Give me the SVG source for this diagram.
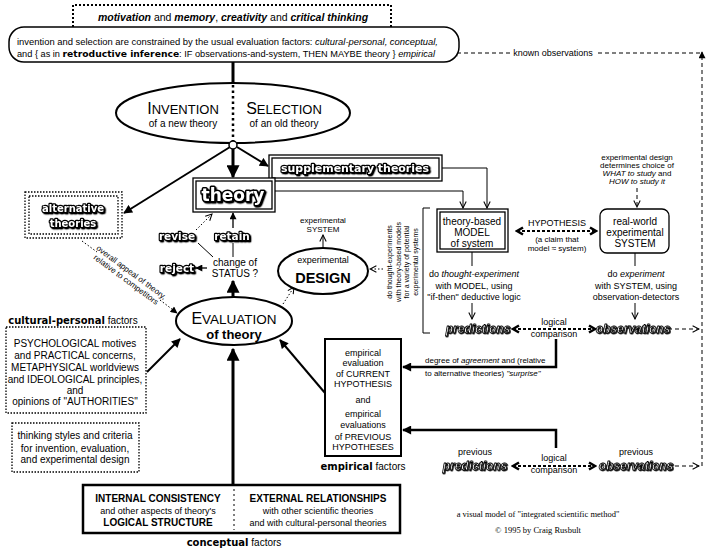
<svg xmlns="http://www.w3.org/2000/svg" width="710" height="550" viewBox="0 0 710 550">
<style>
.t{font-family:"Liberation Sans",Arial,sans-serif;font-size:9px;fill:#000}
.c{text-anchor:middle}
.b{font-weight:bold}
.i{font-style:italic}
.s8{font-size:8px}
.s10{font-size:10px}
.hv{font-family:"DejaVu Sans",sans-serif;font-weight:bold}
.ol{font-family:"DejaVu Sans",sans-serif;font-weight:bold;fill:#fff;stroke:#000;stroke-width:2.4px;paint-order:stroke;stroke-linejoin:round;filter:url(#sh);text-anchor:middle}
.oli{font-family:"Liberation Sans",Arial,sans-serif;font-weight:bold;font-style:italic;font-size:12px;fill:#fff;stroke:#000;stroke-width:0.8px;stroke-linejoin:round;filter:url(#sh2);text-anchor:middle}
.box{fill:#fff;stroke:#000}
.dot{fill:none;stroke:#000;stroke-width:1.3;stroke-dasharray:1.5 1.5}
.ln{fill:none;stroke:#000;stroke-width:1}
.dash{fill:none;stroke:#000;stroke-width:1;stroke-dasharray:4 3}
.dash2{fill:none;stroke:#000;stroke-width:2;stroke-dasharray:3 2}
.dotl{fill:none;stroke:#000;stroke-width:1;stroke-dasharray:1.5 2}
</style>
<defs>
<filter id="sh" x="-10%" y="-20%" width="130%" height="150%"><feDropShadow dx="1.3" dy="1.3" stdDeviation="0" flood-color="#000"/></filter>
<filter id="sh2" x="-10%" y="-20%" width="130%" height="150%"><feDropShadow dx="0.8" dy="0.8" stdDeviation="0" flood-color="#000"/></filter>
<marker id="big" viewBox="0 0 10 10" refX="9" refY="5" markerWidth="13" markerHeight="13" orient="auto" markerUnits="userSpaceOnUse"><path d="M0,0 L10,5 L0,10 z"/></marker>
<marker id="med" viewBox="0 0 10 10" refX="9" refY="5" markerWidth="10" markerHeight="9" orient="auto" markerUnits="userSpaceOnUse"><path d="M0,0 L10,5 L0,10 z"/></marker>
<marker id="sm" viewBox="0 0 10 10" refX="9" refY="5" markerWidth="8" markerHeight="7" orient="auto" markerUnits="userSpaceOnUse"><path d="M0,0 L10,5 L0,10 z"/></marker>
<marker id="open" viewBox="0 0 10 10" refX="9" refY="5" markerWidth="8" markerHeight="8" orient="auto" markerUnits="userSpaceOnUse"><path d="M1,1 L9,5 L1,9" fill="none" stroke="#000" stroke-width="1.3"/></marker>
<marker id="chev" viewBox="0 0 10 10" refX="8" refY="5" markerWidth="10" markerHeight="10" orient="auto-start-reverse" markerUnits="userSpaceOnUse"><path d="M2,1.5 L8,5 L2,8.5" fill="none" stroke="#000" stroke-width="2.6"/></marker>
</defs>
<rect width="710" height="550" fill="#fff"/>

<g id="connectors">
<line x1="233" y1="62" x2="233" y2="83" stroke="#000" stroke-width="3"/>
<line x1="233" y1="149" x2="233" y2="177" stroke="#000" stroke-width="3" marker-end="url(#big)"/>
<line x1="230" y1="147" x2="124" y2="213" stroke="#000" stroke-width="2" marker-end="url(#med)"/>
<line x1="237" y1="147" x2="268" y2="166" stroke="#000" stroke-width="2" marker-end="url(#med)"/>
<polyline points="275,191 463,191 463,208" class="ln" marker-end="url(#open)"/>
<polyline points="442,168 487,168 487,208" class="ln" marker-end="url(#open)"/>
<line x1="233" y1="228" x2="233" y2="213" stroke="#000" stroke-width="1.3" marker-end="url(#sm)"/>
<line x1="233" y1="243" x2="233" y2="257" class="ln"/>
<line x1="196" y1="230" x2="212" y2="214" class="dotl" marker-end="url(#open)"/>
<line x1="198" y1="243" x2="213" y2="257" class="ln"/>
<line x1="207" y1="268" x2="196" y2="268" stroke="#000" stroke-width="1.3" marker-end="url(#sm)"/>
<line x1="233" y1="297" x2="233" y2="281" stroke="#000" stroke-width="3" marker-end="url(#big)"/>
<line x1="283" y1="304" x2="294" y2="287" class="dotl" marker-end="url(#open)"/>
<line x1="323" y1="248" x2="323" y2="235" class="ln" marker-end="url(#open)"/>
<line x1="383" y1="269" x2="370" y2="269" class="dotl" marker-end="url(#open)"/>
<line x1="82" y1="241" x2="97" y2="252" class="dotl"/>
<line x1="160" y1="300" x2="177" y2="313" class="dotl" marker-end="url(#sm)"/>
<line x1="147" y1="372" x2="180" y2="339" stroke="#000" stroke-width="2" marker-end="url(#med)"/>
<line x1="325" y1="393" x2="280" y2="340" stroke="#000" stroke-width="2" marker-end="url(#med)"/>
<line x1="233" y1="485" x2="233" y2="349" stroke="#000" stroke-width="3" marker-end="url(#big)"/>
<path d="M430,208 H423 V333 H430" class="ln"/>
<line x1="472" y1="252" x2="472" y2="266" class="ln"/>
<line x1="472" y1="303" x2="472" y2="319" class="ln" marker-end="url(#open)"/>
<line x1="635" y1="253" x2="635" y2="266" class="ln"/>
<line x1="635" y1="303" x2="635" y2="319" class="ln" marker-end="url(#open)"/>
<line x1="637" y1="188" x2="637" y2="207" class="dash" marker-end="url(#open)"/>
<line x1="517" y1="231" x2="596" y2="231" class="dash2" marker-start="url(#chev)" marker-end="url(#chev)"/>
<line x1="513" y1="329" x2="595" y2="329" class="dash2" marker-start="url(#chev)" marker-end="url(#chev)"/>
<line x1="668" y1="329" x2="699" y2="329" class="dash" marker-end="url(#open)"/>
<polyline points="556,339 556,367 403,367" fill="none" stroke="#000" stroke-width="2.5" marker-end="url(#med)"/>
<line x1="513" y1="466" x2="595" y2="466" class="dash2" marker-start="url(#chev)" marker-end="url(#chev)"/>
<line x1="668" y1="466" x2="699" y2="466" class="dash" marker-end="url(#open)"/>
<polyline points="556,448 556,430 403,430" fill="none" stroke="#000" stroke-width="2.5" marker-end="url(#med)"/>
<line x1="702" y1="466" x2="702" y2="52" class="dash" marker-end="url(#sm)"/>
<line x1="700" y1="53" x2="596" y2="53" class="dash"/>
<line x1="510" y1="53" x2="451" y2="53" class="dash" marker-end="url(#sm)"/>
</g>

<g id="motivation">
<path d="M73,27 V5 H391 V27" fill="none" stroke="#000" stroke-width="2" stroke-dasharray="2 2"/>
<text x="233" y="21" class="t c" style="font-size:10.5px"><tspan class="b i">motivation</tspan> and <tspan class="b i">memory</tspan>, <tspan class="b i">creativity</tspan> and <tspan class="b i">critical thinking</tspan></text>
</g>

<g id="constraints">
<rect x="9" y="27" width="450" height="35" rx="15" class="box" stroke-width="1.5"/>
<text x="17" y="45" class="t" textLength="421" lengthAdjust="spacingAndGlyphs">invention and selection are constrained by the usual evaluation factors:  <tspan class="i">cultural-personal, conceptual,</tspan></text>
<text x="17" y="57" class="t" textLength="418" lengthAdjust="spacingAndGlyphs">and  { as in <tspan class="hv">retroductive inference</tspan>:  IF observations-and-system, THEN MAYBE theory }  <tspan class="i">empirical</tspan></text>
</g>

<g id="known-observations">
<text x="553" y="56" class="t c">known observations</text>
</g>

<g id="invention-selection">
<ellipse cx="233" cy="113" rx="117" ry="30" class="box" stroke-width="2"/>
<line x1="233" y1="85" x2="233" y2="141" stroke="#000" stroke-width="2.5" stroke-dasharray="2.5 3"/>
<text x="183" y="114" class="t c"><tspan font-size="16">I</tspan><tspan font-size="13">NVENTION</tspan></text>
<text x="183" y="127" class="t c s10">of a new theory</text>
<text x="284" y="114" class="t c"><tspan font-size="16">S</tspan><tspan font-size="13">ELECTION</tspan></text>
<text x="284" y="127" class="t c s10">of an old theory</text>
<circle cx="233" cy="145" r="4" fill="#fff" stroke="#000" stroke-width="1.5"/>
</g>

<g id="supplementary-theories">
<rect x="269" y="155" width="173" height="26" class="box" stroke-width="1.3"/>
<rect x="272" y="158" width="167" height="20" fill="none" stroke="#000" stroke-width="1.3"/>
<text x="355" y="172" class="ol" font-size="10.5" textLength="148" lengthAdjust="spacingAndGlyphs">supplementary theories</text>
</g>

<g id="theory">
<rect x="193" y="178" width="82" height="34" class="box" stroke-width="1.3"/>
<rect x="196" y="181" width="76" height="28" fill="none" stroke="#000" stroke-width="1.3"/>
<text x="233" y="201" class="ol" font-size="17" style="stroke-width:3px">theory</text>
</g>

<g id="alternative-theories">
<rect x="25" y="192" width="97" height="46" fill="#fff" class="dot"/>
<rect x="29" y="196" width="89" height="38" class="dot"/>
<text x="73" y="212" class="ol" font-size="10">alternative</text>
<text x="73" y="227" class="ol" font-size="10">theories</text>
</g>

<g id="status">
<text x="177" y="240" class="ol" font-size="10.5">revise</text>
<text x="232" y="240" class="ol" font-size="10.5">retain</text>
<text x="177" y="272" class="ol" font-size="10.5">reject</text>
<text x="235" y="266" class="t c s10">change of</text>
<text x="235" y="277" class="t c s10">STATUS ?</text>
</g>

<g id="appeal-label">
<text transform="translate(128,277) rotate(36.5)" class="t c s8"><tspan x="0" y="-3">overall appeal of theory,</tspan><tspan x="0" y="6">relative to competitors</tspan></text>
</g>

<g id="experimental-design">
<ellipse cx="323" cy="271" rx="45" ry="23" class="box" stroke-width="2"/>
<text x="323" y="263" class="t c">experimental</text>
<text x="323" y="283" class="t c b" style="font-size:14.5px">DESIGN</text>
<text x="323" y="223" class="t c s8">experimental</text>
<text x="323" y="232" class="t c s8">SYSTEM</text>
</g>

<g id="thought-experiments">
<text transform="translate(392,262) rotate(-90)" class="t c" style="font-size:7px"><tspan x="0" y="0">do thought-experiments</tspan><tspan x="0" y="8.5">with theory-based models</tspan><tspan x="0" y="17">for a variety of potential</tspan><tspan x="0" y="25.5">experimental systems</tspan></text>
</g>

<g id="evaluation">
<ellipse cx="234" cy="321" rx="58" ry="24" class="box" stroke-width="2"/>
<text x="234" y="324" class="t c"><tspan font-size="16">E</tspan><tspan font-size="13.5">VALUATION</tspan></text>
<text x="234" y="339" class="t c b" style="font-size:13px">of theory</text>
</g>

<g id="model">
<rect x="437" y="209" width="71" height="43" class="box" stroke-width="1.3"/>
<rect x="440" y="212" width="65" height="37" fill="none" stroke="#000" stroke-width="1.3"/>
<text x="472" y="225" class="t c s10">theory-based</text>
<text x="472" y="236" class="t c s10">MODEL</text>
<text x="472" y="247" class="t c s10">of system</text>
<text x="474" y="277" class="t c">do <tspan class="i">thought-experiment</tspan></text>
<text x="474" y="289" class="t c">with MODEL, using</text>
<text x="474" y="300" class="t c">"if-then" deductive logic</text>
</g>

<g id="hypothesis">
<text x="557" y="226" class="t c">HYPOTHESIS</text>
<text x="557" y="242" class="t c s8">(a claim that</text>
<text x="557" y="251" class="t c s8">model ≈ system)</text>
</g>

<g id="design-choice">
<text x="637" y="160" class="t c s8">experimental design</text>
<text x="637" y="168" class="t c s8">determines choice of</text>
<text x="637" y="176" class="t c s8"><tspan class="i">WHAT to study</tspan> and</text>
<text x="637" y="184" class="t c s8 i">HOW to study it</text>
</g>

<g id="system">
<rect x="600" y="209" width="69" height="44" rx="7" class="box" stroke-width="1.3"/>
<text x="635" y="225" class="t c s10">real-world</text>
<text x="635" y="236" class="t c s10">experimental</text>
<text x="635" y="247" class="t c s10">SYSTEM</text>
<text x="636" y="277" class="t c">do <tspan class="i">experiment</tspan></text>
<text x="636" y="289" class="t c">with SYSTEM, using</text>
<text x="636" y="300" class="t c">observation-detectors</text>
</g>

<g id="predictions">
<text x="478" y="333" class="oli">predictions</text>
</g>
<g id="comparison">
<text x="554" y="325" class="t c">logical</text>
<text x="554" y="337" class="t c">comparison</text>
</g>
<g id="observations">
<text x="633" y="333" class="oli">observations</text>
</g>

<g id="agreement">
<text x="425" y="363" class="t s8">degree of <tspan class="i">agreement</tspan> and (relative</text>
<text x="425" y="376" class="t s8">to alternative theories)  <tspan class="i">"surprise"</tspan></text>
</g>

<g id="empirical">
<rect x="325" y="339" width="76" height="117" class="box" stroke-width="2"/>
<text x="363" y="356" class="t c">empirical</text>
<text x="363" y="366" class="t c">evaluation</text>
<text x="363" y="377" class="t c">of  CURRENT</text>
<text x="363" y="387" class="t c">HYPOTHESIS</text>
<text x="363" y="403" class="t c">and</text>
<text x="363" y="417" class="t c">empirical</text>
<text x="363" y="428" class="t c">evaluations</text>
<text x="363" y="440" class="t c">of  PREVIOUS</text>
<text x="363" y="450" class="t c">HYPOTHESES</text>
<text x="363" y="470" class="t c s10"><tspan class="hv">empirical</tspan> factors</text>
</g>

<g id="previous-predictions">
<text x="475" y="455" class="t c">previous</text>
<text x="475" y="470" class="oli">predictions</text>
</g>
<g id="previous-comparison">
<text x="554" y="461" class="t c">logical</text>
<text x="554" y="473" class="t c">comparison</text>
</g>
<g id="previous-observations">
<text x="636" y="455" class="t c">previous</text>
<text x="636" y="470" class="oli">observations</text>
</g>

<g id="cultural-personal">
<text x="73" y="324" class="t c s10"><tspan class="hv">cultural-personal</tspan> factors</text>
<rect x="6" y="327" width="140" height="86" fill="#fff" class="dot"/>
<text x="75" y="347" class="t c s10">PSYCHOLOGICAL motives</text>
<text x="75" y="359" class="t c s10">and PRACTICAL concerns,</text>
<text x="75" y="371" class="t c s10">METAPHYSICAL worldviews</text>
<text x="75" y="383" class="t c s10">and IDEOLOGICAL principles,</text>
<text x="75" y="394" class="t c s10">and</text>
<text x="75" y="405" class="t c s10">opinions of "AUTHORITIES"</text>
</g>

<g id="thinking-styles">
<rect x="12" y="423" width="127" height="49" class="dot"/>
<text x="75" y="439" class="t c s10">thinking styles and criteria</text>
<text x="75" y="452" class="t c s10">for  invention, evaluation,</text>
<text x="75" y="463" class="t c s10">and  experimental design</text>
</g>

<g id="conceptual">
<rect x="83" y="485" width="317" height="48" class="box" stroke-width="2.5"/>
<line x1="234" y1="489" x2="234" y2="530" stroke="#000" stroke-width="1" stroke-dasharray="2 3"/>
<text x="158" y="502" class="t c b s10">INTERNAL CONSISTENCY</text>
<text x="158" y="514" class="t c">and other aspects of theory's</text>
<text x="158" y="526" class="t c b s10">LOGICAL STRUCTURE</text>
<text x="318" y="502" class="t c b s10">EXTERNAL RELATIONSHIPS</text>
<text x="318" y="514" class="t c">with other scientific theories</text>
<text x="318" y="526" class="t c">and with cultural-personal theories</text>
<text x="234" y="546" class="t c s10"><tspan class="hv">conceptual</tspan> factors</text>
</g>

<g id="credit">
<text x="538" y="517" font-family="Liberation Serif,serif" font-size="8.5" text-anchor="middle">a visual model of "integrated scientific method"</text>
<text x="538" y="533" font-family="Liberation Serif,serif" font-size="8.5" text-anchor="middle">© 1995 by Craig Rusbult</text>
</g>
</svg>
